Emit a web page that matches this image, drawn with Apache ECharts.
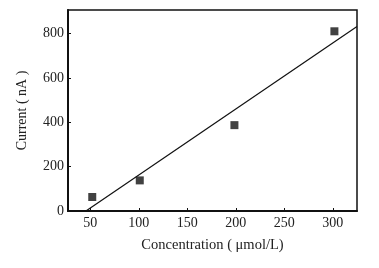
<!DOCTYPE html>
<html>
<head>
<meta charset="UTF-8">
<title>Current vs Concentration</title>
<script src="https://cdn.jsdelivr.net/npm/echarts@6/dist/echarts.min.js"></script>
</head>
<body style="margin:0;background:#fff">
<div id="main" style="width:379px;height:268px;"></div>
<script>
// measured points
var concentration = [52, 101, 198.6, 301.7];
var current = [63, 138, 387, 810];
// fitted line ends
var fitX = [45.5, 325];
var fitY = [0, 832];
var xTicks = [50, 100, 150, 200, 250, 300];
var yTicks = [0, 200, 400, 600, 800];

var font = 'Liberation Serif';
var chart = echarts.init(document.getElementById('main'));
chart.setOption({
    animation: false,
    grid: {
        left: 68, right: 22, top: 10, bottom: 57,
        show: true, borderColor: '#111', borderWidth: 1.5
    },
    xAxis: {
        type: 'value', min: 27, max: 325,
        name: 'Concentration ( μmol/L)', nameLocation: 'middle', nameGap: 27,
        nameTextStyle: { fontFamily: font, fontSize: 14.5, color: '#222' },
        axisLine: { show: true, lineStyle: { color: '#111', width: 2 } },
        axisTick: { show: true, inside: true, length: 3, customValues: xTicks, lineStyle: { color: '#111' } },
        axisLabel: { customValues: xTicks, margin: 5, fontFamily: font, fontSize: 14, color: '#222' },
        splitLine: { show: false }
    },
    yAxis: {
        type: 'value', min: 0, max: 906,
        name: 'Current ( nA )', nameLocation: 'middle', nameGap: 39,
        nameTextStyle: { fontFamily: font, fontSize: 14, color: '#222' },
        axisLine: { show: true, lineStyle: { color: '#111', width: 2 } },
        axisTick: { show: true, inside: true, length: 3, customValues: yTicks, lineStyle: { color: '#111' } },
        axisLabel: { customValues: yTicks, margin: 4, fontFamily: font, fontSize: 14, color: '#222' },
        splitLine: { show: false }
    },
    series: [
        {
            type: 'scatter',
            symbol: 'rect', symbolSize: 8,
            itemStyle: { color: '#111' },
            data: concentration.map(function (x, i) { return [x, current[i]]; })
        },
        {
            type: 'line',
            showSymbol: false,
            lineStyle: { color: '#111', width: 1.2 },
            data: fitX.map(function (x, i) { return [x, fitY[i]]; })
        }
    ]
});
</script>
</body>
</html>
